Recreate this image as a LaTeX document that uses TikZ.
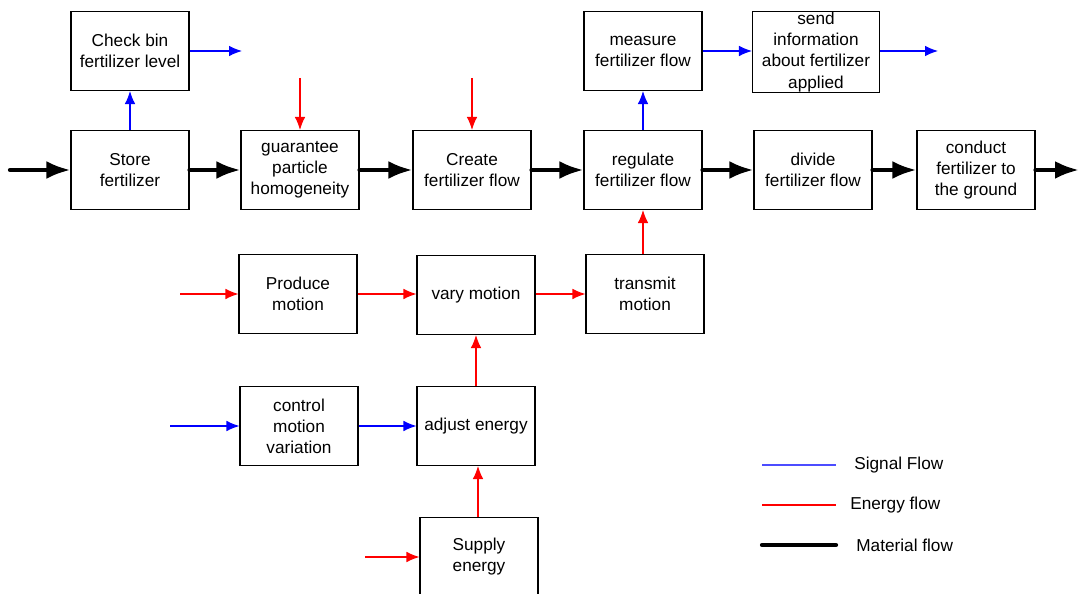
\documentclass[tikz,border=0pt]{standalone}
\usepackage{fontspec}
\setmainfont{Liberation Sans}
\usetikzlibrary{arrows.meta}
\begin{document}
\begin{tikzpicture}[x=0.02cm,y=-0.02cm,
    font=\fontsize{9.8}{12}\selectfont,
    block/.style={draw,line width=0.6pt,minimum width=2.36cm,minimum height=1.58cm,align=center,inner sep=0.5pt},
    matline/.style={line width=2.4pt,line cap=round},
    material/.style={matline,-{Latex[length=4.8mm,width=3.6mm]}},
    sigline/.style={blue,line width=0.6pt},
    signal/.style={sigline,-{Latex[length=2.6mm,width=2.1mm]}},
    enline/.style={red,line width=0.6pt},
    energy/.style={enline,-{Latex[length=2.6mm,width=2.1mm]}}]
  \useasboundingbox (0,0) rectangle (1079,594);
  % top row
  \node[block] (check) at (130,51) {Check bin\\fertilizer level};
  \node[block] (measure) at (643,51) {measure\\fertilizer flow};
  \node[block,minimum width=2.54cm] (send) at (816,52) {send\\information\\about fertilizer\\applied};
  % main chain
  \node[block] (store) at (130,170) {Store\\fertilizer};
  \node[block] (guar) at (300,170) {guarantee\\particle\\homogeneity};
  \node[block] (create) at (472,170) {Create\\fertilizer flow};
  \node[block] (regulate) at (643,170) {regulate\\fertilizer flow};
  \node[block] (divide) at (813,170) {divide\\fertilizer flow};
  \node[block] (conduct) at (976,170) {conduct\\fertilizer to\\the ground};
  % motion
  \node[block] (produce) at (298,294) {Produce\\motion};
  \node[block] (vary) at (476,295) {vary motion};
  \node[block] (transmit) at (645,294) {transmit\\motion};
  \node[block] (control) at (299,426) {control\\motion\\variation};
  \node[block] (adjust) at (476,426) {adjust energy};
  \node[block] (supply) at (479,557) {Supply\\energy};
  % free ends
  \coordinate (matin) at (10,170);
  \coordinate (matout) at (1079,170);
  \coordinate (checkout) at (242,51);
  \coordinate (sendout) at (938,51);
  \coordinate (guarin) at (300,78);
  \coordinate (createin) at (472,78);
  \coordinate (producein) at (180,294);
  \coordinate (controlin) at (170,426);
  \coordinate (supplyin) at (365,557);

  % material flow
  \draw[material] (matin) -- (store);
  \draw[material] (store) -- (guar);
  \draw[material] (guar) -- (create);
  \draw[material] (create) -- (regulate);
  \draw[material] (regulate) -- (divide);
  \draw[material] (divide) -- (conduct);
  \draw[material] (conduct) -- (matout);

  % signal flow
  \draw[signal] (store) -- (check);
  \draw[signal] (check) -- (checkout);
  \draw[signal] (regulate) -- (measure);
  \draw[signal] (measure.east) -- (measure.east -| send.west);
  \draw[signal] (send.east |- checkout) -- (sendout);
  \draw[signal] (controlin) -- (control);
  \draw[signal] (control) -- (adjust);

  % energy flow
  \draw[energy] (guarin) -- (guar);
  \draw[energy] (createin) -- (create);
  \draw[energy] (producein) -- (produce);
  \draw[energy] (produce) -- (produce -| vary.west);
  \draw[energy] (produce -| vary.east) -- (produce -| transmit.west);
  \draw[energy] (transmit.north -| regulate) -- (regulate.south);
  \draw[energy] (adjust) -- (vary);
  \draw[energy] (supply.north -| 478,0) -- (adjust.south -| 478,0);
  \draw[energy] (supplyin) -- (supply);

  % legend
  \coordinate (sigA) at (762,465);
  \coordinate (sigB) at (836,465);
  \coordinate (enA) at (762,505);
  \coordinate (enB) at (836,505);
  \coordinate (matA) at (762,545);
  \coordinate (matB) at (836,545);
  \draw[sigline,blue!70] (sigA) -- (sigB);
  \draw[enline] (enA) -- (enB);
  \draw[matline] (matA) -- (matB);
  \node[anchor=west,inner sep=0pt] (sigtxt) at (854,465) {Signal Flow};
  \node[anchor=west,inner sep=0pt] (entxt) at (850,505) {Energy flow};
  \node[anchor=west,inner sep=0pt] (mattxt) at (856,545) {Material flow};
\end{tikzpicture}
\end{document}
